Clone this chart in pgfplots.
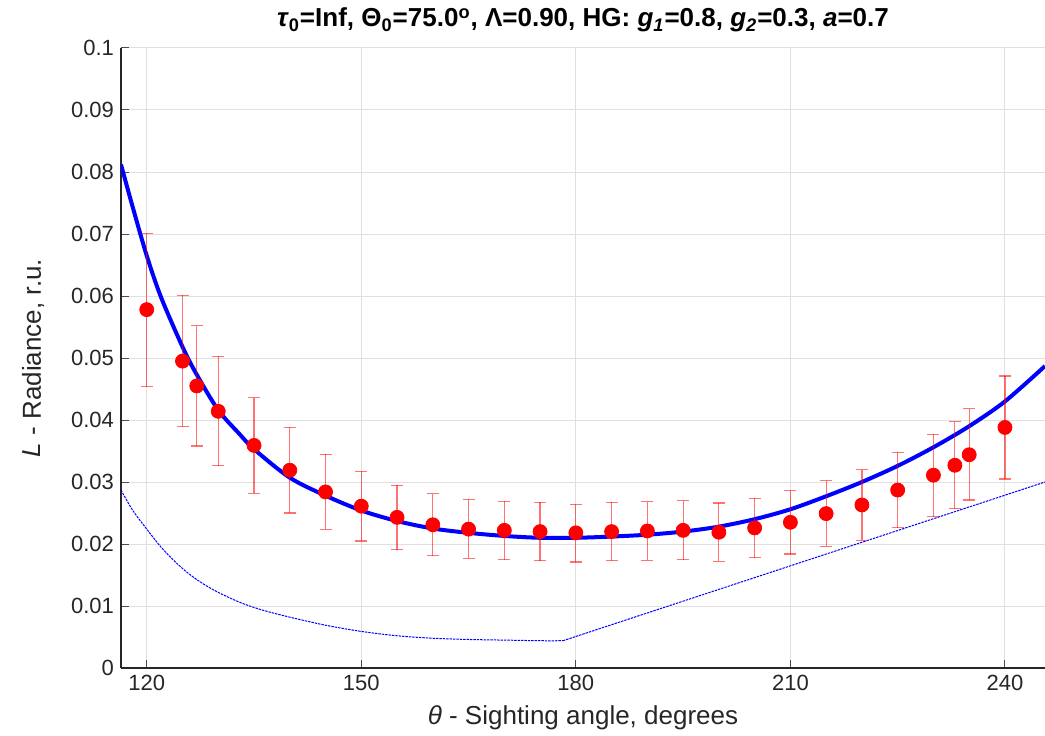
\documentclass[border=0pt]{standalone}
\usepackage{fontspec}
\setmainfont{Liberation Sans}
\usepackage{pgfplots}
\pgfplotsset{compat=1.18}
\usepackage{pgfplotstable}

\pgfplotstableread{
x y ep em
120 0.0578 0.0123 0.0124
125 0.0495 0.0106 0.0106
127 0.0455 0.0097 0.0097
130 0.0414 0.0089 0.0088
135 0.0359 0.0077 0.0077
140 0.0319 0.0069 0.0069
145 0.0284 0.0061 0.0060
150 0.0261 0.0056 0.0056
155 0.0243 0.0052 0.0052
160 0.0231 0.0050 0.0050
165 0.0224 0.0048 0.0047
170 0.0222 0.0047 0.0047
175 0.0220 0.0047 0.0047
180 0.0218 0.0046 0.0047
185 0.0220 0.0047 0.0047
190 0.0221 0.0047 0.0047
195 0.0222 0.0048 0.0047
200 0.0219 0.0047 0.0047
205 0.0226 0.0048 0.0048
210 0.0235 0.0051 0.0051
215 0.0249 0.0053 0.0053
220 0.0263 0.0057 0.0057
225 0.0287 0.0061 0.0061
230 0.0311 0.0066 0.0067
233 0.0327 0.0070 0.0070
235 0.0344 0.0074 0.0073
240 0.0388 0.0083 0.0083
}\obs

\pgfplotstableread{
x y
116.4 0.0812
118 0.0745
120 0.0665
122 0.0598
125 0.0518
127 0.0473
130 0.0416
133 0.0377
135 0.0353
140 0.0307
145 0.0278
150 0.0254
155 0.0237
160 0.0225
165 0.0218
170 0.0213
175 0.0210
180 0.0210
185 0.0212
190 0.0215
195 0.0220
200 0.0228
205 0.0240
210 0.0256
215 0.0277
220 0.0300
225 0.0326
230 0.0356
235 0.0390
240 0.0430
245.6 0.0487
}\model

\pgfplotstableread{
x y
116.4 0.0287
118 0.0255
120 0.0224
122 0.0195
124 0.0171
126 0.0151
128 0.0135
130 0.0122
133 0.0106
136 0.0094
140 0.0082
145 0.0069
150 0.0059
155 0.0052
160 0.0048
165 0.0046
170 0.0045
175 0.0044
178.2 0.0044
}\singleleft

\pgfplotstableread{
x y
178.2 0.0044
245.6 0.0300
}\singleright

\begin{document}
\begin{tikzpicture}
\begin{axis}[
  scale only axis, width=462pt, height=310pt,
  xmin=116.4, xmax=245.6, ymin=0, ymax=0.1,
  axis lines*=left,
  axis line style={-, black!85, line width=0.6pt},
  tick align=inside, major tick length=4pt,
  tick style={black!70, line width=0.5pt},
  xtick={120,150,180,210,240},
  ytick={0,0.01,0.02,0.03,0.04,0.05,0.06,0.07,0.08,0.09,0.1},
  scaled y ticks=false,
  yticklabel style={/pgf/number format/fixed, /pgf/number format/precision=2},
  /pgf/number format/assume math mode=true,
  ticklabel style={font=\fontsize{11}{13}\selectfont, text=black!85},
  grid=major, major grid style={black!12, line width=0.5pt},
  xlabel={\textit{θ} - Sighting angle, degrees},
  ylabel={\textit{L} - Radiance, r.u.},
  label style={font=\fontsize{13}{15}\selectfont, text=black!85},
  xlabel style={at={(axis description cs:0.5,-0.0919)}, anchor=base},
  ylabel style={at={(axis description cs:-0.0866,0.5)}, anchor=base},
  every axis title shift=0pt,
  title={\textit{τ}\textsubscript{0}=Inf, Θ\textsubscript{0}=75.0\textsuperscript{o}, Λ=0.90, HG: \textit{g}\textsubscript{\textit{1}}=0.8, \textit{g}\textsubscript{\textit{2}}=0.3, \textit{a}=0.7},
  title style={at={(axis description cs:0.5,1.0339)}, anchor=base, font=\bfseries\fontsize{13}{15}\selectfont},
]
\addplot[blue, line width=0.5pt, dash pattern=on 1.2pt off 0.5pt, smooth] table[x=x,y=y]{\singleleft};
\addplot[blue, line width=0.5pt, dash pattern=on 1.2pt off 0.5pt] table[x=x,y=y]{\singleright};
\addplot[blue, line width=2pt, smooth] table[x=x,y=y]{\model};
\addplot[only marks, mark=*, mark size=3.5pt, color=red, mark options={fill=red, draw=red},
  error bars/.cd, y dir=both, y explicit,
  error bar style={red, opacity=0.55, line width=0.6pt},
  error mark options={rotate=90, mark size=3pt, red, opacity=0.55, line width=0.6pt}]
  table[x=x, y=y, y error plus=ep, y error minus=em]{\obs};
\end{axis}
\pgfresetboundingbox
\path[use as bounding box] (-60.5pt,-33.5pt) rectangle (462pt,334pt);
\end{tikzpicture}
\end{document}
